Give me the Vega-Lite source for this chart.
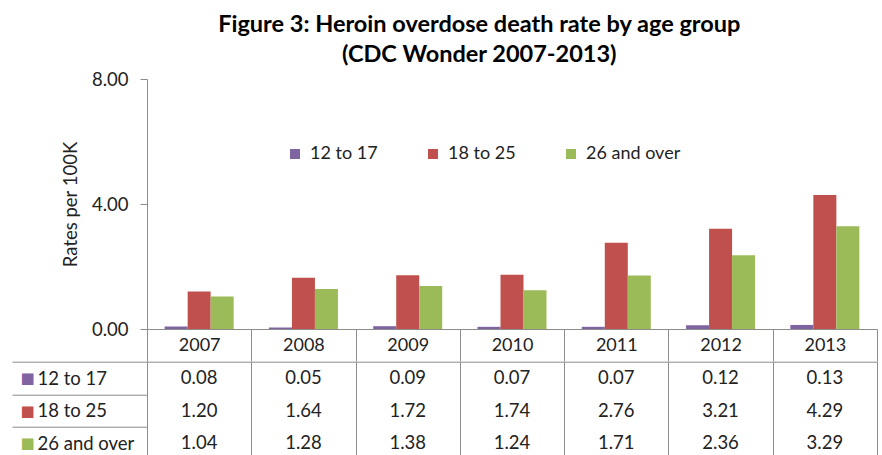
{
  "$schema": "https://vega.github.io/schema/vega-lite/v6.json",
  "padding": {"left": 11, "right": 5, "top": 12, "bottom": 0},
  "config": {
    "font": "Lato",
    "view": {"stroke": null},
    "axis": {"labelFont": "Lato", "labelFontSize": 18, "labelColor": "#222", "titleFont": "Lato", "titleFontSize": 18, "titleFontWeight": "normal", "titleColor": "#222", "domainColor": "#8c8c8c", "tickColor": "#8c8c8c", "gridColor": "#8c8c8c"}
  },
  "title": {
    "text": ["Figure 3: Heroin overdose death rate by age group", "(CDC Wonder 2007-2013)"],
    "font": "Lato", "fontSize": 23.5, "fontWeight": "bold", "lineHeight": 30, "color": "#000", "anchor": "middle", "offset": 4, "dx": 35
  },
  "data": {
    "values": [
      {"year": "2007", "series": "12 to 17", "value": 0.08},
      {"year": "2008", "series": "12 to 17", "value": 0.05},
      {"year": "2009", "series": "12 to 17", "value": 0.09},
      {"year": "2010", "series": "12 to 17", "value": 0.07},
      {"year": "2011", "series": "12 to 17", "value": 0.07},
      {"year": "2012", "series": "12 to 17", "value": 0.12},
      {"year": "2013", "series": "12 to 17", "value": 0.13},
      {"year": "2007", "series": "18 to 25", "value": 1.20},
      {"year": "2008", "series": "18 to 25", "value": 1.64},
      {"year": "2009", "series": "18 to 25", "value": 1.72},
      {"year": "2010", "series": "18 to 25", "value": 1.74},
      {"year": "2011", "series": "18 to 25", "value": 2.76},
      {"year": "2012", "series": "18 to 25", "value": 3.21},
      {"year": "2013", "series": "18 to 25", "value": 4.29},
      {"year": "2007", "series": "26 and over", "value": 1.04},
      {"year": "2008", "series": "26 and over", "value": 1.28},
      {"year": "2009", "series": "26 and over", "value": 1.38},
      {"year": "2010", "series": "26 and over", "value": 1.24},
      {"year": "2011", "series": "26 and over", "value": 1.71},
      {"year": "2012", "series": "26 and over", "value": 2.36},
      {"year": "2013", "series": "26 and over", "value": 3.29}
    ]
  },
  "bounds": "flush",
  "spacing": 32.7,
  "vconcat": [
    {
      "width": 730,
      "height": 250,
      "mark": {"type": "bar"},
      "encoding": {
        "x": {
          "field": "year", "type": "ordinal",
          "scale": {"paddingInner": 0, "paddingOuter": 0},
          "axis": {"title": null, "tickBand": "extent", "tickSize": 32, "labelPadding": -16, "labelBaseline": "middle", "labelAngle": 0}
        },
        "xOffset": {
          "field": "series", "type": "nominal",
          "scale": {"paddingOuter": 0.767, "paddingInner": 0}
        },
        "y": {
          "field": "value", "type": "quantitative",
          "scale": {"domain": [0, 8]},
          "axis": {"values": [0, 4, 8], "format": ".2f", "grid": false, "title": "Rates per 100K", "titleFontSize": 18.5, "labelFontSize": 18.5, "tickSize": 7, "labelPadding": 12, "titlePadding": 11}
        },
        "color": {
          "field": "series", "type": "nominal",
          "scale": {"domain": ["12 to 17", "18 to 25", "26 and over"], "range": ["#8064A2", "#C0504D", "#9BBB59"]},
          "legend": {
            "title": null, "orient": "none", "legendX": 139, "legendY": 66, "direction": "horizontal",
            "symbolType": "square", "symbolSize": 100, "symbolStrokeWidth": 0, "labelFont": "Lato", "labelFontSize": 18,
            "labelColor": "#222", "labelOffset": 6, "columnPadding": 46, "padding": 0
          }
        }
      }
    },
    {
      "width": 730,
      "height": 98,
      "view": {"stroke": "#8c8c8c"},
      "layer": [
        {
          "mark": {"type": "text", "fontSize": 18.5, "font": "Lato", "color": "#222"},
          "encoding": {
            "x": {
              "field": "year", "type": "ordinal",
              "scale": {"paddingInner": 0, "paddingOuter": 0},
              "axis": {"orient": "top", "title": null, "labels": false, "ticks": false, "domain": false, "grid": true, "tickBand": "extent"}
            },
            "y": {
              "field": "series", "type": "nominal",
              "scale": {"paddingInner": 0, "paddingOuter": 0},
              "axis": {"orient": "left", "title": null, "tickBand": "extent", "tickSize": 135, "labelAlign": "left", "labelPadding": -25, "labelBaseline": "middle", "labelFontSize": 18.5}
            },
            "text": {"field": "value", "type": "quantitative", "format": ".2f"}
          }
        },
        {
          "mark": {"type": "text", "opacity": 0},
          "encoding": {
            "y": {
              "field": "series", "type": "nominal",
              "axis": {
                "orient": "left", "title": null, "domain": false, "ticks": true, "tickSize": 135, "tickOpacity": 0,
                "labelExpr": "'■'", "labelFont": "DejaVu Sans", "labelFontSize": 15, "labelAlign": "left", "labelPadding": -8,
                "labelColor": {"expr": "datum.value === '12 to 17' ? '#8064A2' : datum.value === '18 to 25' ? '#C0504D' : '#9BBB59'"}
              }
            },
            "text": {"value": ""}
          }
        }
      ],
      "resolve": {"axis": {"y": "independent"}}
    }
  ]
}
